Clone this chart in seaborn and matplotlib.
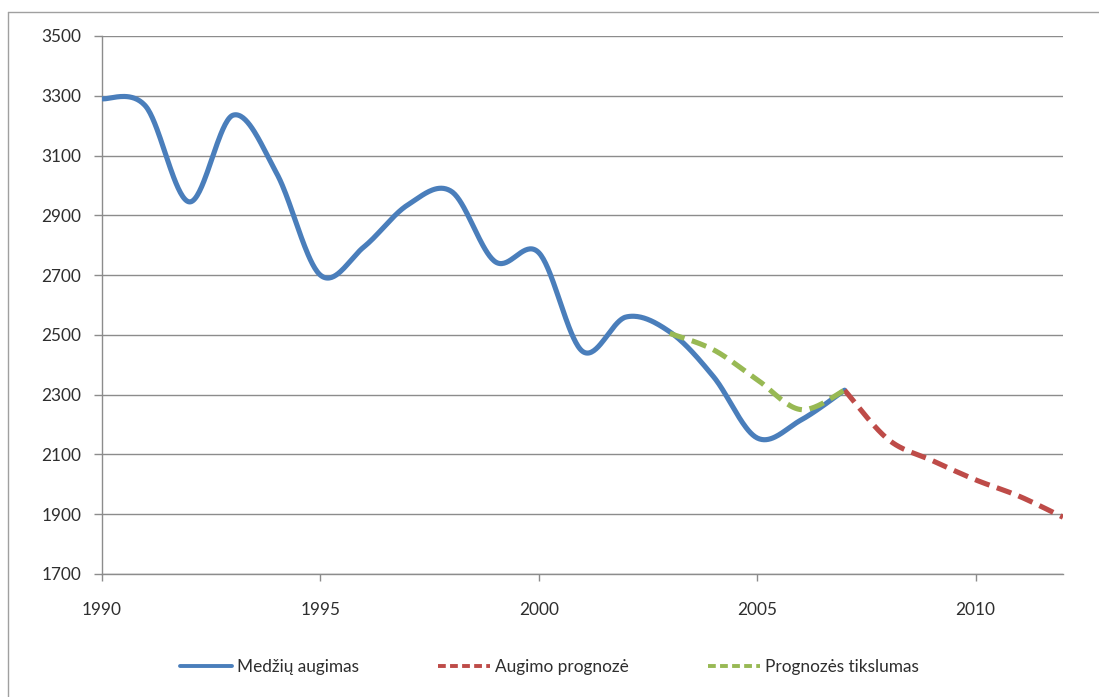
import numpy as np
import pandas as pd
import matplotlib
matplotlib.use("Agg")
import matplotlib.pyplot as plt
from matplotlib.lines import Line2D
import seaborn as sns

# Observed tree growth and forecasts
years_obs = [1990, 1991, 1992, 1993, 1994, 1995, 1996, 1997, 1998, 1999,
             2000, 2001, 2002, 2003, 2004, 2005, 2006, 2007]
growth_obs = [3290, 3265, 2945, 3235, 3040, 2700, 2795, 2935, 2980, 2745,
              2775, 2445, 2560, 2510, 2360, 2155, 2215, 2315]

years_fc = [2007, 2008, 2009, 2010, 2011, 2012]
growth_fc = [2315, 2150, 2080, 2015, 1960, 1890]

years_chk = [2003, 2004, 2005, 2006, 2007]
growth_chk = [2505, 2450, 2350, 2250, 2315]

labels = ["Medžių augimas", "Augimo prognozė", "Prognozės tikslumas"]
colors = ["#4A7EBB", "#BE4B48", "#98B954"]

y_ticks = [1700, 1900, 2100, 2300, 2500, 2700, 2900, 3100, 3300, 3500]
x_ticks = [1990, 1995, 2000, 2005, 2010]


def smooth(xs, ys, n=40):
    """Bezier smoothing through every point (Catmull-Rom style)."""
    pts = np.column_stack([xs, ys]).astype(float)
    P = np.vstack([pts[0], pts, pts[-1]])
    t = np.linspace(0, 1, n)[:, None]
    out = []
    for i in range(1, len(P) - 2):
        p0, p1, p2, p3 = P[i - 1], P[i], P[i + 1], P[i + 2]
        c1 = p1 + (p2 - p0) / 6
        c2 = p2 - (p3 - p1) / 6
        seg = ((1 - t) ** 3 * p1 + 3 * (1 - t) ** 2 * t * c1
               + 3 * (1 - t) * t ** 2 * c2 + t ** 3 * p2)
        out.append(seg if i == 1 else seg[1:])
    s = np.vstack(out)
    return pd.DataFrame({"year": s[:, 0], "value": s[:, 1]})


sns.set_theme(style="white")
plt.rcParams["font.family"] = ["Lato", "DejaVu Sans"]

fig = plt.figure(figsize=(10.99, 6.97), dpi=100)
ax = fig.add_axes([102 / 1099, 1 - 574 / 697, (1063 - 102) / 1099, (574 - 36) / 697])

lw = 3.7
dash = (3.0, 1.5)
sns.lineplot(data=smooth(years_obs, growth_obs), x="year", y="value", ax=ax,
             sort=False, estimator=None, color=colors[0], lw=lw,
             solid_capstyle="round", zorder=3)
sns.lineplot(data=smooth(years_fc, growth_fc), x="year", y="value", ax=ax,
             sort=False, estimator=None, color=colors[1], lw=lw,
             zorder=4).lines[-1].set_dashes(dash)
sns.lineplot(data=smooth(years_chk, growth_chk), x="year", y="value", ax=ax,
             sort=False, estimator=None, color=colors[2], lw=lw,
             zorder=5).lines[-1].set_dashes(dash)

grid_c = "#8c8c8c"
txt_c = "#2e2e2e"
fs = 12.4
ax.set_xlim(1990, 2012)
ax.set_ylim(1700, 3500)
ax.set_yticks(y_ticks)
ax.set_xticks(x_ticks)
ax.set_xlabel("")
ax.set_ylabel("")
ax.yaxis.grid(True, color=grid_c, lw=1.0)
ax.set_axisbelow(True)
for side in ["top", "right"]:
    ax.spines[side].set_visible(False)
for side in ["left", "bottom"]:
    ax.spines[side].set_color(grid_c)
    ax.spines[side].set_linewidth(1.0)
ax.tick_params(axis="y", direction="out", length=6, width=1, color=grid_c,
               pad=9, labelsize=fs, labelcolor=txt_c, left=True)
ax.tick_params(axis="x", direction="out", length=5, width=1, color=grid_c,
               pad=15, labelsize=fs, labelcolor=txt_c, bottom=True)

handles = [
    Line2D([], [], color=colors[0], lw=2.8),
    Line2D([], [], color=colors[1], lw=2.8, dashes=(2.0, 1.1)),
    Line2D([], [], color=colors[2], lw=2.8, dashes=(2.0, 1.1)),
]
fig.legend(handles, labels, loc="center", bbox_to_anchor=(0.5, 1 - 667 / 697),
           bbox_transform=fig.transFigure, ncol=3, frameon=False,
           fontsize=fs, labelcolor=txt_c, handlelength=3.0,
           handletextpad=0.3, columnspacing=4.6)

# outer chart frame
border = "#a0a0a0"
fig.add_artist(Line2D([8 / 1099, 8 / 1099], [0, 1 - 12 / 697],
                      transform=fig.transFigure, color=border, lw=1.0))
fig.add_artist(Line2D([8 / 1099, 1], [1 - 12 / 697, 1 - 12 / 697],
                      transform=fig.transFigure, color=border, lw=1.0))

fig.savefig("out.png", dpi=100, facecolor="white")
